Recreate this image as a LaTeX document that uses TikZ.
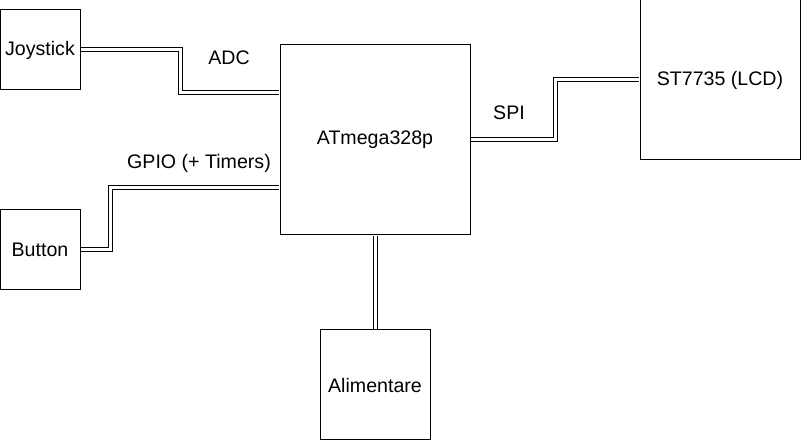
\documentclass[tikz,border=0pt]{standalone}
\usepackage{fontspec}
\setmainfont{Liberation Sans}
\usetikzlibrary{calc}
\begin{document}
\begin{tikzpicture}[x=0.75pt,y=-0.75pt,line width=0.75pt,
    block/.style={rectangle,draw,inner sep=0pt,font=\fontsize{14.7}{17}\selectfont},
    bus/.style={double,double distance=2.25pt,shorten <=0.375pt,shorten >=0.375pt},
    label text/.style={font=\fontsize{14.7}{17}\selectfont}]

  \useasboundingbox (0,0) rectangle (801,441);

  \node[block,minimum width=60pt,minimum height=60pt] (joy) at (40,50) {Joystick};
  \node[block,minimum width=60pt,minimum height=60pt] (btn) at (40,250) {Button};
  \node[block,minimum width=142.5pt,minimum height=142.5pt] (mcu) at (375,140) {ATmega328p};
  \node[block,minimum width=120pt,minimum height=120pt] (lcd) at (720,80) {ST7735 (LCD)};
  \node[block,minimum width=82.5pt,minimum height=82.5pt] (pwr) at (375,385) {Alimentare};

  \draw[bus] (joy.east) -- (180,50) |- ($(mcu.north west)!.25!(mcu.south west)$);
  \draw[bus] (btn.east) -- (110,250) |- ($(mcu.north west)!.75!(mcu.south west)$);
  \draw[bus] (mcu.east) -- (555,140) |- (lcd.west);
  \draw[bus] (mcu.south) -- (pwr.north);

  \node[label text] (adc) at (229,58) {ADC};
  \node[label text] (gpio) at (199,163) {GPIO (+ Timers)};
  \node[label text] (spi) at (509,113) {SPI};

\end{tikzpicture}
\end{document}
